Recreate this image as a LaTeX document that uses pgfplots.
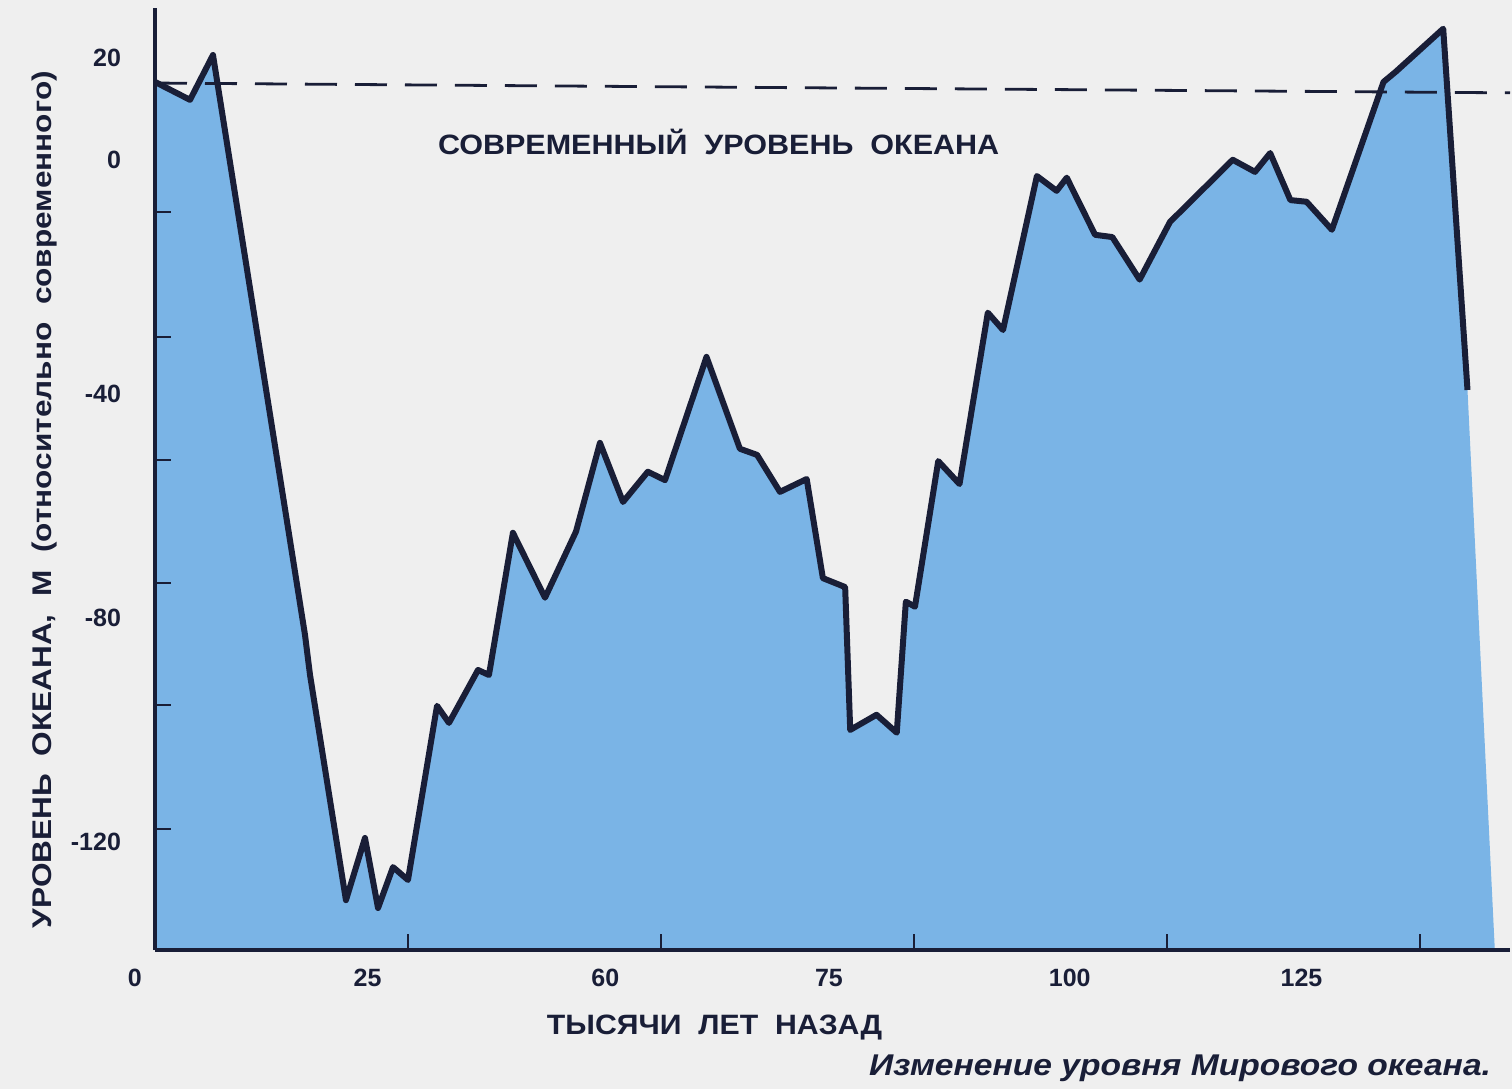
\documentclass[border=0pt]{standalone}
\usepackage{pgfplots}
\pgfplotsset{compat=1.18}
\usepackage{fontspec}
\setmainfont{Liberation Sans}
\definecolor{sea}{RGB}{122,180,230}
\definecolor{ink}{RGB}{25,30,55}
\definecolor{paper}{RGB}{239,239,239}
\begin{document}
\begin{tikzpicture}
\fill[paper] (-77.5pt,-69.5pt) rectangle (678.5pt,475pt);
\begin{axis}[at={(0,0)}, anchor=south west, scale only axis,
  width=677.5pt, height=471pt,
  xmin=0, xmax=133.9, ymin=-139.3, ymax=28.9,
  axis x line=bottom, axis y line=left, axis on top,
  axis line style={ink, line width=1.6pt, -},
  xtick={25,50,75,100,125}, xticklabels={},
  ytick={-7.5,-29.8,-51.8,-73.75,-95.5,-117.7}, yticklabels={},
  tick align=inside, major tick length=8pt,
  tick style={ink, line width=1.2pt},
  clip=false]
\addplot[fill=sea, draw=none] coordinates {
 (0,-139.3) (0,15.7) (3.46,12.5) (5.73,20.5) (14.82,-83.0) (15.32,-90.2)
 (18.87,-130.4) (20.75,-119.3) (22.04,-131.8) (23.52,-124.5) (25.0,-126.8)
 (27.87,-95.7) (29.05,-98.75) (31.92,-89.3) (33.0,-90.2) (35.37,-64.8)
 (38.54,-76.4) (41.6,-64.6) (43.97,-48.75) (46.25,-59.3) (48.7,-53.9)
 (50.4,-55.4) (54.5,-33.4) (57.8,-49.8) (59.5,-50.9) (61.76,-57.5)
 (64.4,-55.2) (66.0,-72.9) (68.2,-74.5) (68.7,-100.0) (71.3,-97.3)
 (73.3,-100.5) (74.2,-77.1) (75.1,-78.0) (77.4,-52.0) (79.5,-56.1)
 (82.3,-25.5) (83.8,-28.6) (87.15,-1.1) (89.1,-3.75) (90.1,-1.4)
 (92.9,-11.6) (94.6,-12.0) (97.3,-19.6) (100.3,-9.3) (106.5,1.8)
 (108.7,-0.36) (110.2,3.0) (112.2,-5.4) (113.8,-5.7) (116.3,-10.7)
 (121.4,15.7) (122.6,17.5) (127.3,25.2) (129.7,-39.3) (132.4,-139.3)};
\addplot[ink, line width=1.4pt, dash pattern=on 16pt off 9pt] coordinates {(0,15.5) (133.9,13.75)};
\addplot[ink, line width=3pt, line join=round] coordinates {
 (0,15.7) (3.46,12.5) (5.73,20.5) (14.82,-83.0) (15.32,-90.2)
 (18.87,-130.4) (20.75,-119.3) (22.04,-131.8) (23.52,-124.5) (25.0,-126.8)
 (27.87,-95.7) (29.05,-98.75) (31.92,-89.3) (33.0,-90.2) (35.37,-64.8)
 (38.54,-76.4) (41.6,-64.6) (43.97,-48.75) (46.25,-59.3) (48.7,-53.9)
 (50.4,-55.4) (54.5,-33.4) (57.8,-49.8) (59.5,-50.9) (61.76,-57.5)
 (64.4,-55.2) (66.0,-72.9) (68.2,-74.5) (68.7,-100.0) (71.3,-97.3)
 (73.3,-100.5) (74.2,-77.1) (75.1,-78.0) (77.4,-52.0) (79.5,-56.1)
 (82.3,-25.5) (83.8,-28.6) (87.15,-1.1) (89.1,-3.75) (90.1,-1.4)
 (92.9,-11.6) (94.6,-12.0) (97.3,-19.6) (100.3,-9.3) (106.5,1.8)
 (108.7,-0.36) (110.2,3.0) (112.2,-5.4) (113.8,-5.7) (116.3,-10.7)
 (121.4,15.7) (122.6,17.5) (127.3,25.2) (129.7,-39.3)};
% text
\node[font=\bfseries\fontsize{14}{14}\selectfont, ink] at (axis cs:55.7,5) {\scalebox{1.09}[1]{СОВРЕМЕННЫЙ\ \ УРОВЕНЬ\ \ ОКЕАНА}};
\begin{scope}[every node/.style={font=\bfseries\fontsize{12.5}{12.5}\selectfont, text=ink}]
\node[anchor=east,xshift=-13.5pt] at (axis cs:0,20) {20};
\node[anchor=east,xshift=-13.5pt] at (axis cs:0,1.8) {0};
\node[anchor=east,xshift=-13.5pt] at (axis cs:0,-40) {-40};
\node[anchor=east,xshift=-13.5pt] at (axis cs:0,-80) {-80};
\node[anchor=east,xshift=-13.5pt] at (axis cs:0,-120) {-120};
\node[yshift=-14pt] at (axis cs:-2,-139.3) {0};
\node[yshift=-14pt] at (axis cs:21,-139.3) {25};
\node[yshift=-14pt] at (axis cs:44.5,-139.3) {60};
\node[yshift=-14pt] at (axis cs:66.6,-139.3) {75};
\node[yshift=-14pt] at (axis cs:90.4,-139.3) {100};
\node[yshift=-14pt] at (axis cs:113.3,-139.3) {125};
\end{scope}
\node[font=\bfseries\fontsize{14}{14}\selectfont, text=ink, yshift=-39pt] at (axis cs:55.3,-139.3) {\scalebox{1.08}[1]{ТЫСЯЧИ\ \ ЛЕТ\ \ НАЗАД}};
\node[font=\bfseries\itshape\fontsize{15}{15}\selectfont, text=ink, yshift=-59pt] at (axis cs:101.3,-139.3) {\scalebox{1.12}[1]{Изменение уровня Мирового океана.}};
\node[font=\bfseries\fontsize{13.5}{13.5}\selectfont, text=ink, rotate=90] at ([xshift=-55pt]axis cs:0,-58.9) {\scalebox{1.17}[1]{УРОВЕНЬ\ \ ОКЕАНА,\ \ М\ \ (относительно\ \ современного)}};
\end{axis}
\pgfresetboundingbox
\path (-77.5pt,-69.5pt) rectangle (678.5pt,475pt);
\end{tikzpicture}
\end{document}
